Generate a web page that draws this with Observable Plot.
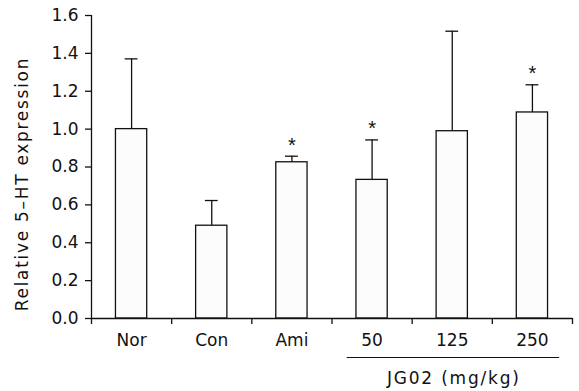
<!DOCTYPE html>
<html><head><meta charset="utf-8">
<script src="https://cdn.jsdelivr.net/npm/d3@7"></script>
<script src="https://cdn.jsdelivr.net/npm/@observablehq/plot@0.6"></script>
<style>body{margin:0;background:#fff;}</style>
</head><body><div id="chart"></div>
<script>
const categories = ["Nor","Con","Ami","50","125","250"];
const means = [1.00, 0.49, 0.825, 0.732, 0.989, 1.088];
const errTops = [1.371, 0.623, 0.857, 0.943, 1.517, 1.234];
const significant = [false, false, true, true, false, true];
const yTicks = [0, 0.2, 0.4, 0.6, 0.8, 1.0, 1.2, 1.4, 1.6];
const groupLabel = "JG02 (mg/kg)";
const groupMembers = ["50","125","250"];
const yLabel = "Relative 5\u2013HT expression";

const data = categories.map((c,i)=>({c, i, v: means[i], e: errTops[i], s: significant[i]}));
const bounds = d3.range(categories.length+1).map(k=>k-0.5);
const gIdx = groupMembers.map(g=>categories.indexOf(g));
const g1 = d3.min(gIdx), g2 = d3.max(gIdx);
const halfBar = 0.195, halfCap = 0.08;
const font = '"DejaVu Sans", Verdana, sans-serif';

const chart = Plot.plot({
  width: 579, height: 391,
  marginLeft: 91, marginRight: 7, marginTop: 15, marginBottom: 73,
  style: {fontFamily: font, fontSize: "17px", color: "#111", background: "#fff"},
  x: {domain: [-0.5, categories.length-0.5], axis: null},
  y: {domain: [0, 1.6], axis: null},
  marks: [
    Plot.rectY(data, {x1: d=>d.i-halfBar, x2: d=>d.i+halfBar, y: "v", fill: "#fcfcfc", stroke: "#111", strokeWidth: 1.3}),
    Plot.ruleX(data, {x: "i", y1: "v", y2: "e", stroke: "#111", strokeWidth: 1.3}),
    Plot.ruleY(data, {y: "e", x1: d=>d.i-halfCap, x2: d=>d.i+halfCap, stroke: "#111", strokeWidth: 1.3}),
    Plot.text(data.filter(d=>d.s), {x: "i", y: "e", text: ()=>"*", dy: -11, fontSize: 20, fontFamily: '"Liberation Sans", Arial, sans-serif', fill: "#111"}),
    // axes lines
    Plot.ruleX([-0.5], {y1: 0, y2: 1.6, stroke: "#111", strokeWidth: 1.3}),
    Plot.ruleY([0], {x1: -0.5, x2: categories.length-0.5, stroke: "#111", strokeWidth: 1.3}),
    Plot.axisY({ticks: yTicks, tickFormat: d3.format(".1f"), tickSize: 6, tickPadding: 7, fontSize: 17, anchor: "left", label: null, stroke: "#111", strokeWidth: 1.3}),
    Plot.axisX({ticks: bounds, tickFormat: ()=>"", tickSize: 6, anchor: "bottom", label: null, stroke: "#111", strokeWidth: 1.3}),
    Plot.axisX({ticks: d3.range(categories.length), tickFormat: i=>categories[i], tickSize: 0, tickPadding: 15, fontSize: 17, anchor: "bottom", label: null}),
    // group bracket
    Plot.ruleY([0], {x1: g1-0.31, x2: g2+0.34, dy: 39, stroke: "#111", strokeWidth: 1.2}),
    Plot.text([groupLabel], {x: (g1+g2)/2 + 0.02, y: 0, dy: 60, text: d=>d, fontSize: 17, fill: "#111"}),
    // y label
    Plot.text([yLabel], {frameAnchor: "left", textAnchor: "middle", y: 0.71, dx: -69, rotate: -90, text: d=>d, fontSize: 17, fill: "#111"})
  ]
});
document.getElementById("chart").append(chart);
const sel = d3.select(chart).selectAll("text");
sel.filter(function(){return this.textContent === yLabel;}).style("letter-spacing", "1.7px");
sel.filter(function(){return this.textContent === groupLabel;}).style("letter-spacing", "1.8px");
</script></body></html>
